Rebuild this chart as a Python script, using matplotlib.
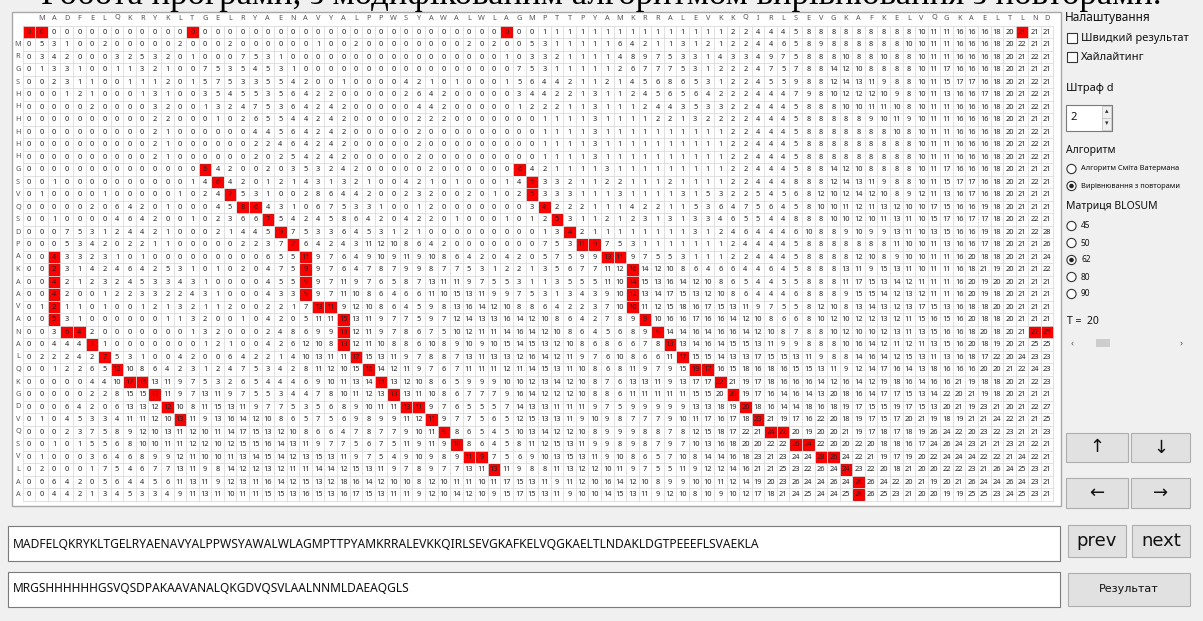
import matplotlib.pyplot as plt
from matplotlib.patches import Rectangle, Circle

plt.rcParams['font.family'] = ['Noto Sans', 'DejaVu Sans']

# sequences shown in the table header and the row labels
top_seq = "MADFELQKRYKLTGELRYAENAVYALPPWSYAWALWLAGMPTTPYAMKRRALEVKKQIRLSEVGKAFKELVQGKAELTLND"
side_seq = "MRGSHHHHHHGSVQSDPAKAAVANALQKGDVQSVLAA"

# full sequences in the two text fields
seq_x = "MADFELQKRYKLTGELRYAENAVYALPPWSYAWALWLAGMPTTPYAMKRRALEVKKQIRLSEVGKAFKELVQGKAELTLNDAKLDGTPEEEFLSVAEKLA"
seq_y = "MRGSHHHHHHGSVQSDPAKAAVANALQKGDVQSVLAALNNMLDAEAQGLS"

# score matrix, one string per table row (82 cells each)
scores = [
    "0 0 0 0 0 0 0 0 0 0 0 0 0 0 0 0 0 0 0 0 0  0 0 0 0 0 0 0 0 0 0 0 0 0 0 0 0 0 0 0 0 1  1 1 1 1 1 1 1 1 1 1 1 1 1 1 2 2 4 4 4 5  8 8 8 8 8 8 8 8 8 10 11 11 16 16 16 18 20 21 21 21",
    "0 5 3 1 0 0 2 0 0 0 0 0 2 0 0 0 2 0 0 0 0  0 0 1 0 0 2 0 0 0 0 0 0 0 0 2 0 2 0 0 5 3  1 1 1 1 1 6 4 2 1 1 3 1 2 1 2 2 4 4 6 5  8 9 8 8 8 8 8 8 10 10 11 11 16 16 16 18 20 22 21 21",
    "0 3 4 2 0 0 0 3 2 5 3 2 0 1 0 0 0 7 5 3 1  0 0 0 0 0 0 0 0 0 0 0 0 0 0 0 0 0 1 0 3 3  2 1 1 1 1 4 8 9 7 5 3 3 1 4 3 3 4 9 7 5  8 8 8 10 8 8 10 8 8 10 11 11 16 16 16 18 20 21 22 21",
    "0 1 3 3 1 0 0 1 1 3 2 1 0 0 7 5 3 5 4 5 3  1 0 0 0 0 0 0 0 0 0 0 0 0 0 0 0 0 0 7 5 3  1 1 1 1 1 2 6 7 7 7 5 3 1 2 2 2 4 7 5 7  8 8 14 12 10 8 8 8 8 10 11 17 16 16 16 18 20 21 21 21",
    "0 0 2 3 1 1 0 0 1 1 1 2 0 1 5 7 5 3 3 5 5  4 2 0 0 1 0 0 0 0 4 2 1 0 1 0 0 0 1 5 6 4  4 2 1 1 2 1 4 5 6 8 6 5 3 1 2 2 4 5 5 9  8 8 12 14 13 11 9 8 8 10 11 15 17 17 16 18 20 21 22 21",
    "0 0 0 1 2 1 0 0 0 1 3 1 0 0 3 5 4 5 5 3 5  6 4 2 2 0 0 0 0 0 2 6 4 2 0 0 0 0 0 3 4 4  2 2 1 3 1 1 2 4 5 6 5 6 4 2 2 2 4 4 4 7  9 8 10 12 12 12 10 9 8 10 11 13 16 16 17 18 20 21 22 21",
    "0 0 0 0 0 2 0 0 0 0 3 2 0 0 1 3 2 4 7 5 3  6 4 2 4 2 0 0 0 0 0 4 4 2 0 0 0 0 0 1 2 2  2 1 1 3 1 1 1 2 4 4 3 5 3 3 2 2 4 4 4 5  8 8 8 10 10 11 11 10 8 10 11 11 16 16 16 18 20 21 22 21",
    "0 0 0 0 0 0 0 0 0 0 2 2 0 0 0 1 0 2 6 5 5  4 4 2 4 2 0 0 0 0 0 2 2 2 0 0 0 0 0 0 0 1  1 1 1 3 1 1 1 1 2 2 1 3 2 2 2 2 4 4 4 5  8 8 8 8 8 9 10 11 9 10 11 11 16 16 16 18 20 21 21 21",
    "0 0 0 0 0 0 0 0 0 0 2 1 0 0 0 0 0 0 4 4 5  6 4 2 4 2 0 0 0 0 0 2 0 0 0 0 0 0 0 0 0 1  1 1 1 3 1 1 1 1 1 1 1 1 1 1 2 2 4 4 4 5  8 8 8 8 8 8 8 10 8 10 11 11 16 16 16 18 20 21 22 21",
    "0 0 0 0 0 0 0 0 0 0 2 1 0 0 0 0 0 0 2 2 4  6 4 2 4 2 0 0 0 0 0 2 0 0 0 0 0 0 0 0 0 1  1 1 1 3 1 1 1 1 1 1 1 1 1 1 2 2 4 4 4 5  8 8 8 8 8 8 8 8 8 10 11 11 16 16 16 18 20 21 22 21",
    "0 0 0 0 0 0 0 0 0 0 2 1 0 0 0 0 0 0 2 0 2  5 4 2 4 2 0 0 0 0 0 2 0 0 0 0 0 0 0 0 0 1  1 1 1 3 1 1 1 1 1 1 1 1 1 1 2 2 4 4 4 5  8 8 8 8 8 8 8 8 8 10 11 11 16 16 16 18 20 21 22 21",
    "0 0 0 0 0 0 0 0 0 0 0 0 0 0 6 4 2 0 0 2 0  3 5 3 2 4 2 0 0 0 0 0 2 0 0 0 0 0 0 6 4 2  1 1 1 1 3 1 1 1 1 1 1 1 1 1 2 2 4 4 4 5  8 8 14 12 10 8 8 8 8 10 11 17 16 16 16 18 20 21 21 21",
    "0 0 1 0 0 0 0 0 0 0 0 0 0 1 4 6 4 2 0 1 2  1 4 3 1 3 2 1 0 0 4 2 1 0 1 0 0 0 1 4 5 3  3 2 1 1 2 2 1 1 1 2 1 1 1 1 2 2 4 4 4 8  8 8 12 14 13 11 9 8 8 10 11 15 17 17 16 18 20 21 22 21",
    "0 1 0 0 0 0 1 0 0 0 0 0 1 0 2 4 7 5 3 1 0  0 2 8 6 4 4 2 0 0 2 3 2 0 0 2 0 1 0 2 5 3  3 3 1 1 1 3 1 1 1 1 3 1 5 3 2 2 5 4 5 6  8 12 10 12 14 12 10 8 9 12 11 13 16 17 16 18 20 21 21 21",
    "0 0 0 0 0 2 0 6 4 2 0 1 0 0 0 4 5 8 6 4 3  1 0 6 7 5 3 3 1 0 0 1 2 0 0 0 0 0 0 0 3 4  2 2 2 1 1 1 4 2 2 1 1 5 3 6 4 7 5 6 4 5  8 10 10 11 12 11 13 12 10 10 17 15 16 16 19 18 20 21 21 21",
    "0 0 1 0 0 0 0 4 6 4 2 0 0 1 0 2 3 6 6 7 5  4 2 4 5 8 6 4 2 0 4 2 2 0 1 0 0 0 1 0 1 2  5 3 1 1 2 1 2 3 1 3 1 3 3 4 6 5 5 4 4 8  8 8 10 10 12 10 11 13 11 10 15 17 16 17 17 18 20 21 22 21",
    "0 0 0 7 5 3 1 2 4 4 2 1 0 0 0 2 1 4 4 5 9  7 5 3 3 6 4 5 3 1 2 1 0 0 0 0 0 0 0 0 0 1  3 4 2 1 1 1 1 1 1 1 1 3 1 2 4 6 4 4 4 6  10 8 8 9 10 9 9 13 11 10 13 15 16 16 19 18 20 21 22 28",
    "0 0 0 5 3 4 2 0 2 2 1 1 0 0 0 0 0 2 2 3 7  7 6 4 2 4 3 11 12 10 8 6 4 2 0 0 0 0 0 0 0 7  5 3 11 9 7 5 3 1 1 1 1 1 1 1 2 4 4 4 4 5  8 8 8 8 8 8 8 11 10 10 11 13 16 16 17 18 20 21 21 26",
    "0 0 4 3 3 2 3 1 0 1 0 0 0 0 0 0 0 0 0 6 5  5 11 9 7 6 4 9 10 9 11 9 10 8 6 4 2 0 4 2 0 5  7 5 9 9 13 11 9 7 5 5 3 1 1 1 2 2 4 4 4 5  8 8 8 8 12 10 8 9 10 10 11 11 16 20 18 18 20 21 21 24",
    "0 0 2 3 1 4 2 4 6 4 2 5 3 1 0 1 0 2 0 4 7  5 9 9 7 6 4 7 8 7 9 9 8 7 7 5 3 1 2 2 1 3  5 6 7 7 11 12 16 14 12 10 8 6 4 6 6 4 4 6 4 5  8 8 8 13 11 9 15 13 11 10 11 11 16 18 21 19 20 21 21 22",
    "0 0 4 2 1 2 3 2 4 5 3 3 4 3 1 0 0 0 0 4 5  5 9 9 7 11 9 7 6 5 8 7 13 11 11 9 7 5 5 3 1 1  3 5 5 5 11 10 14 15 13 16 14 12 10 8 6 5 4 4 5 5  8 8 8 11 17 15 13 14 12 11 11 11 16 20 19 20 20 21 21 21",
    "0 0 4 2 0 0 1 2 2 3 3 2 2 4 3 1 0 0 0 4 3  3 9 9 7 11 10 8 6 4 6 6 11 10 15 13 11 9 9 7 5 3  1 3 4 3 9 10 12 13 14 17 15 13 12 10 8 6 4 4 4 6  8 8 8 9 15 15 14 12 13 12 11 11 16 20 19 18 20 21 21 21",
    "0 1 2 1 1 0 1 0 0 1 2 1 3 2 1 1 2 0 0 2 2  1 7 13 11 9 12 10 8 6 4 5 9 8 13 16 14 12 10 8 8 6  4 2 2 3 7 10 10 11 12 15 18 16 17 15 13 11 9 7 5 5  8 12 10 8 13 14 13 12 13 17 15 13 16 18 18 20 20 21 21 21",
    "0 0 5 3 1 0 0 0 0 0 0 1 1 3 2 0 0 1 0 4 2  0 5 11 11 15 13 11 9 7 7 5 9 7 12 14 13 13 16 14 12 10  8 6 4 2 7 8 9 9 10 16 16 17 16 16 14 12 10 8 6 6  8 10 12 10 12 12 13 12 11 15 16 15 16 20 18 18 20 21 21 21",
    "0 0 3 6 4 2 0 0 0 0 0 0 0 1 3 2 0 0 0 2 4  8 6 9 9 13 12 11 9 7 8 6 7 5 10 12 11 11 14 16 14 12  10 8 6 4 5 6 8 9 9 14 14 16 14 16 16 14 12 10 8 7  8 8 10 12 10 10 12 13 11 13 15 16 16 18 20 18 20 21 27 25",
    "0 0 4 4 4 3 1 0 0 0 0 0 0 0 1 2 1 0 0 4 2  6 12 10 8 13 12 11 10 8 8 6 10 8 9 10 9 10 15 14 15 13  12 10 8 6 8 6 6 7 8 13 13 14 16 14 15 15 13 11 9 9  8 8 8 10 16 14 12 11 12 11 13 15 16 20 18 19 20 21 25 25",
    "0 2 2 2 4 2 7 5 3 1 0 0 4 2 0 0 6 4 2 2 1  4 10 13 11 11 17 15 13 11 9 7 8 8 7 13 11 13 13 12 16 14  12 11 9 7 6 10 8 6 6 11 17 15 15 14 13 13 17 15 15 13  11 9 8 8 14 16 14 12 15 13 11 13 16 18 17 22 20 24 23 23",
    "0 0 1 2 2 6 5 12 10 8 6 4 2 3 1 2 4 7 5 3 4  2 8 11 12 10 15 16 14 12 11 9 7 6 7 11 11 11 12 11 14 15  13 11 10 8 6 8 11 9 7 9 15 19 17 16 15 18 16 18 16 15  15 13 11 9 12 14 17 16 14 13 18 16 16 16 20 20 21 22 24 23",
    "0 0 0 0 0 4 4 10 17 15 13 11 9 7 5 3 2 6 5 4 4  4 6 9 10 11 13 14 15 13 12 10 8 6 5 9 9 9 10 10 12 13  14 12 10 8 7 6 13 13 11 9 13 17 17 22 21 19 17 18 16 16  16 14 12 16 14 12 19 18 16 14 16 16 21 19 18 18 20 21 22 23",
    "0 0 0 0 0 2 2 8 15 15 13 11 9 7 13 11 9 7 5 5 3  4 4 7 8 10 11 12 13 13 13 11 10 8 6 7 7 7 9 16 14 12  12 12 10 8 8 6 11 11 11 11 11 15 15 20 20 19 17 16 14 16  14 13 20 18 16 14 17 17 15 13 14 22 20 21 19 18 20 21 21 21",
    "0 0 0 6 4 2 0 6 13 13 12 12 10 8 11 15 13 11 9 7 7  5 3 5 6 8 9 10 11 11 13 11 9 7 6 5 5 5 7 14 13 13  11 11 11 9 7 5 9 9 9 9 9 13 13 18 19 20 18 16 14 14  18 16 18 19 17 15 15 19 17 15 13 20 21 19 23 21 20 21 22 27",
    "0 1 0 4 5 3 3 4 11 11 12 10 13 11 9 13 16 14 12 10 8  6 5 7 5 6 9 8 9 9 11 12 11 9 7 7 5 6 5 12 15 13  13 11 9 10 9 8 7 7 7 9 10 11 17 16 17 18 23 21 19 17  16 22 20 18 19 17 15 17 20 21 19 18 19 21 21 24 22 21 21 25",
    "0 0 0 2 3 7 5 8 9 12 10 13 11 12 10 11 14 17 15 13 12  10 8 6 6 4 7 8 7 7 9 10 11 9 8 6 5 4 5 10 13 14  12 12 10 8 9 9 9 8 8 7 8 12 15 18 17 22 21 24 22 20  19 20 20 21 19 17 18 17 18 19 26 24 22 20 23 22 23 21 21 23",
    "0 0 1 0 1 5 5 6 8 10 10 11 11 12 12 10 12 15 15 16 14  13 11 9 7 7 5 6 7 5 11 9 11 9 10 8 6 4 5 8 11 12  15 13 11 9 9 8 9 8 7 9 7 10 13 16 18 20 20 22 22 26  24 22 20 20 22 20 18 18 16 17 24 26 24 23 21 21 23 21 22 21",
    "0 1 0 0 0 3 6 4 6 8 9 9 12 11 10 10 11 13 14 15 14  12 13 15 13 11 9 7 5 4 9 10 9 8 9 11 9 7 5 6 9 10  13 15 13 11 9 10 8 6 5 7 10 8 14 14 16 18 23 21 23 24  24 28 26 24 22 21 19 17 19 20 22 24 24 24 22 22 21 24 22 21",
    "0 2 0 0 0 1 7 5 4 6 7 7 13 11 9 8 14 12 12 13 12  11 11 14 14 12 15 13 11 9 7 8 9 7 7 13 11 13 11 9 8 8  11 13 12 12 10 11 9 7 5 5 11 9 12 12 14 16 21 21 25 23  22 26 24 24 23 22 20 18 21 20 20 22 22 23 21 26 24 25 23 21",
    "0 0 6 4 2 0 5 6 4 4 5 6 11 13 11 9 12 13 11 16 14  12 15 13 12 18 16 14 12 10 10 8 12 10 11 11 10 11 17 15 13 11  9 11 12 10 16 14 12 10 8 9 9 10 10 11 12 14 19 20 23 26  24 24 26 24 28 26 24 22 20 21 19 20 21 26 24 24 26 24 23 21",
    "0 0 4 4 2 1 3 4 5 3 3 4 9 11 13 11 10 11 11 15 15  13 16 15 13 16 17 15 13 11 11 9 12 10 14 12 10 9 15 17 15 13  11 9 10 10 14 15 13 11 9 12 10 8 10 9 10 12 17 18 21 24  25 24 24 25 28 26 25 23 21 20 20 19 19 25 25 23 24 25 23 21",
]

# highlighted (red) cells as (row, column)
red_cells = [
    (0, 0), (0, 1), (0, 13), (0, 38), (0, 79),
    # path through the middle
    (11, 14), (12, 15), (13, 16), (14, 17), (14, 18), (15, 19), (16, 20),
    (17, 21), (18, 22), (19, 22), (20, 22), (21, 22), (22, 23), (22, 24),
    (23, 25), (24, 25), (25, 25), (26, 26), (27, 27), (28, 28), (29, 29),
    (30, 30), (30, 31), (31, 32), (32, 33), (33, 34), (34, 35), (34, 36), (35, 37),
    # path on the left
    (18, 2), (19, 2), (20, 2), (21, 2), (22, 2), (23, 2), (24, 3), (24, 4),
    (25, 5), (26, 6), (27, 7), (28, 8), (28, 9), (29, 10), (30, 11), (31, 12),
    # path on the right
    (11, 39), (12, 40), (13, 40), (14, 41), (15, 42), (16, 43), (17, 44), (17, 45),
    (18, 46), (18, 47), (19, 48), (20, 48), (21, 48), (22, 48), (23, 49), (24, 50),
    (25, 51), (26, 52), (27, 53), (27, 54), (28, 55), (29, 56), (30, 57), (31, 58),
    (32, 59), (32, 60), (33, 61), (33, 62), (34, 63), (34, 64), (35, 65), (36, 66),
    (37, 66),
    (24, 80), (24, 81),
]

fig = plt.figure(figsize=(12.03, 6.21), dpi=100)
fig.patch.set_facecolor('#f0f0f0')
ax = fig.add_axes([0, 0, 1, 1])
ax.set_xlim(0, 1203)
ax.set_ylim(621, 0)
ax.axis('off')

# cut-off caption above the window (only its lower part is visible)
ax.text(601, 4, "Робота програми, з модифікованим алгоритмом вирівнювання з повторами.",
        family=['Liberation Serif'], fontsize=25, ha='center', va='baseline', color='black')

# table geometry
x0, dx = 29.0, 12.57
y0, dy = 32.0, 12.5
n_rows = len(side_seq) + 1
n_cols = len(top_seq) + 1
left, right = x0 - dx / 2, x0 + (n_cols - 0.5) * dx
top, bottom = y0 - dy / 2, y0 + (n_rows - 0.5) * dy

ax.add_patch(Rectangle((12, 12), 1049, 494, facecolor='white', edgecolor='#a8a8a8', lw=1))

for j in range(n_cols + 1):
    x = left + j * dx
    ax.plot([x, x], [top, bottom], color='#dcdcdc', lw=0.6)
for i in range(n_rows + 1):
    y = top + i * dy
    ax.plot([left, right], [y, y], color='#dcdcdc', lw=0.6)

for (r, c) in red_cells:
    ax.add_patch(Rectangle((left + c * dx + 0.5, top + r * dy + 0.5), dx - 1, dy - 1,
                           facecolor='#ff0000', edgecolor='#c80000', lw=0.6))

for j, ch in enumerate(top_seq):
    ax.text(x0 + (j + 1) * dx, 18, ch, fontsize=5.3, color='#555555', ha='center', va='center')
for i, ch in enumerate(side_seq):
    ax.text(18, y0 + (i + 1) * dy, ch, fontsize=5.3, color='#555555', ha='center', va='center')

for i, row in enumerate(scores):
    for j, v in enumerate(row.split()[:n_cols]):
        ax.text(x0 + j * dx, y0 + i * dy + 0.3, v, fontsize=5.3, color='#222222',
                ha='center', va='center')

# right settings panel
ax.text(1065, 18, "Налаштування", fontsize=8.5, color='#111111', va='center')


def checkbox(y, label):
    ax.add_patch(Rectangle((1067, y - 5), 10, 10, facecolor='white', edgecolor='#333333', lw=0.8))
    ax.text(1081, y, label, fontsize=8, color='#111111', va='center')


checkbox(38, "Швидкий результат")
checkbox(57, "Хайлайтинг")

ax.text(1066, 88, "Штраф d", fontsize=8, color='#111111', va='center')
ax.add_patch(Rectangle((1066, 105), 46, 26, facecolor='white', edgecolor='#7a7a7a', lw=0.8))
ax.text(1070, 118, "2", fontsize=8, color='#111111', va='center')
ax.add_patch(Rectangle((1102, 106), 9, 12, facecolor='#f0f0f0', edgecolor='#c0c0c0', lw=0.5))
ax.add_patch(Rectangle((1102, 118), 9, 12, facecolor='#f0f0f0', edgecolor='#c0c0c0', lw=0.5))
ax.text(1106.5, 112, "▴", fontsize=5, ha='center', va='center', color='#333333')
ax.text(1106.5, 124, "▾", fontsize=5, ha='center', va='center', color='#333333')

ax.text(1066, 151, "Алгоритм", fontsize=7.5, color='#111111', va='center')


def radio(y, label, selected, size=6.5):
    ax.add_patch(Circle((1071.5, y), 4.6, facecolor='white', edgecolor='#333333', lw=0.8))
    if selected:
        ax.add_patch(Circle((1071.5, y), 2.3, facecolor='#222222', edgecolor='none'))
    ax.text(1081, y, label, fontsize=size, color='#111111', va='center')


radio(169, "Алгоритм Сміта Ватермана", False, 5.3)
radio(186, "Вирівнювання з повторами", True, 5.3)

ax.text(1066, 207, "Матриця BLOSUM", fontsize=7.5, color='#111111', va='center')
for y, lab, sel in [(226, "45", False), (243, "50", False), (260, "62", True),
                    (277, "80", False), (294, "90", False)]:
    radio(y, lab, sel, 6)

ax.text(1067, 322, "T =  20", fontsize=7.5, color='#111111', va='center')
ax.text(1072, 343, "‹", fontsize=7, color='#555555', ha='center', va='center')
ax.text(1181, 343, "›", fontsize=7, color='#555555', ha='center', va='center')
ax.add_patch(Rectangle((1096, 339), 14, 8, facecolor='#cdcdcd', edgecolor='none'))


def button(x, y, w, h, label, size):
    ax.add_patch(Rectangle((x, y), w, h, facecolor='#e1e1e1', edgecolor='#adadad', lw=0.8))
    ax.text(x + w / 2, y + h / 2, label, fontsize=size, color='#111111', ha='center', va='center',
            family=['DejaVu Sans'])


button(1066, 433, 62, 29, "↑", 13)
button(1131, 433, 59, 29, "↓", 13)
button(1066, 478, 62, 30, "←", 13)
button(1131, 478, 59, 30, "→", 13)
button(1068, 525, 58, 32, "prev", 13)
button(1132, 525, 58, 32, "next", 13)
button(1068, 573, 122, 33, "Результат", 8)

# sequence text fields
ax.add_patch(Rectangle((8, 526), 1052, 35, facecolor='white', edgecolor='#7a7a7a', lw=0.8))
ax.text(13, 544, seq_x, fontsize=8.7, color='#111111', va='center')
ax.add_patch(Rectangle((8, 572), 1052, 35, facecolor='white', edgecolor='#7a7a7a', lw=0.8))
ax.text(13, 589, seq_y, fontsize=8.6, color='#111111', va='center')

fig.savefig('out.png', dpi=100, facecolor=fig.get_facecolor())
